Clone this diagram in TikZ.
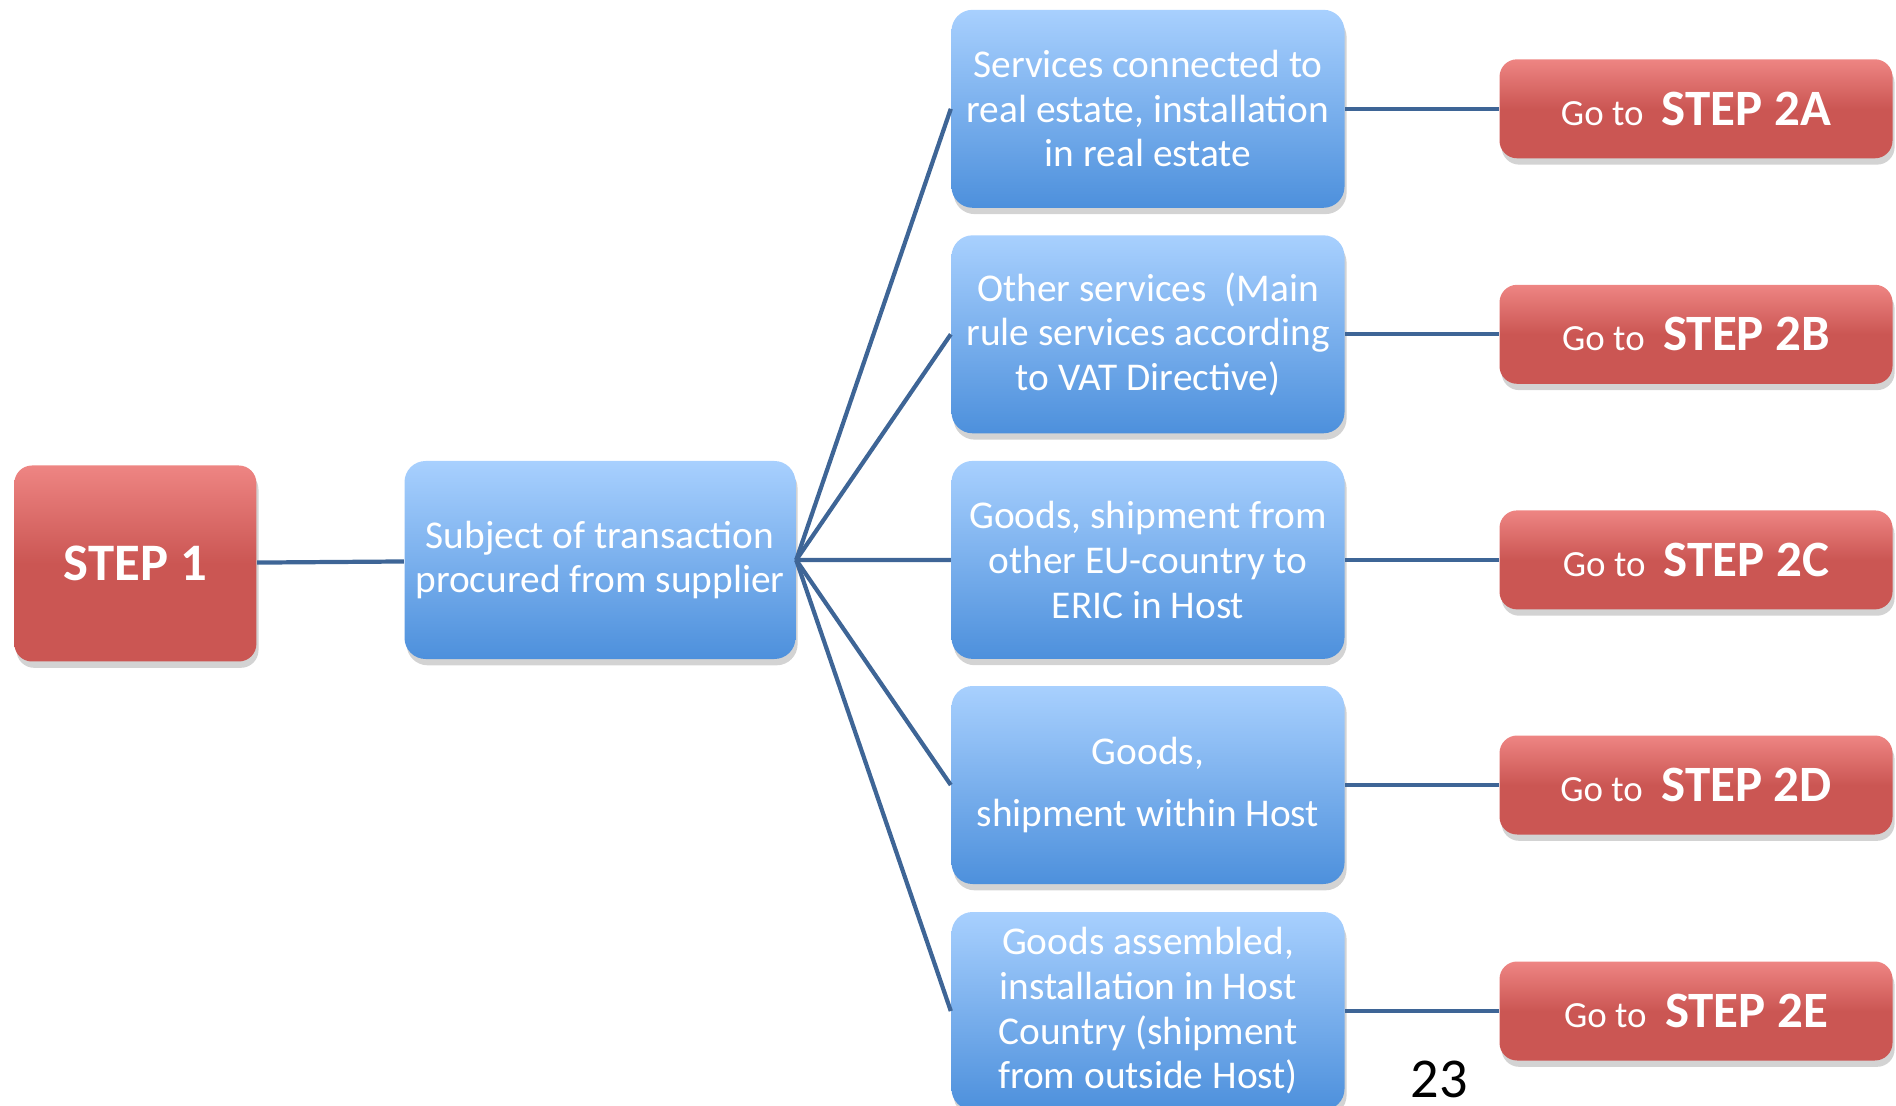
\documentclass[tikz,border=0pt]{standalone}
\usepackage{fontspec}
\setmainfont{Carlito}
\usetikzlibrary{shadows}
\definecolor{stepred}{HTML}{CB5653}
\definecolor{stepredtop}{HTML}{EE8583}
\definecolor{boxblue}{HTML}{4D90DC}
\definecolor{boxbluetop}{HTML}{A8D0FE}
\definecolor{linkblue}{HTML}{3E6596}

\begin{document}
\begin{tikzpicture}[
    stepbox/.style={rounded corners=5pt, top color=stepredtop, bottom color=stepred,
      middle color=stepred, text=white, align=center,
      drop shadow={shadow xshift=0.6pt, shadow yshift=-1.8pt, opacity=0.35}},
    infobox/.style={rounded corners=6pt, top color=boxbluetop, bottom color=boxblue,
      text=white, align=center, inner sep=2pt,
      minimum width=3.93cm, minimum height=1.98cm,
      font=\fontsize{11.2}{12.7}\selectfont,
      drop shadow={shadow xshift=0.6pt, shadow yshift=-1.8pt, opacity=0.35}},
    gobox/.style={stepbox, minimum width=3.93cm, minimum height=0.99cm,
      font=\fontsize{10.5}{12}\selectfont},
    link/.style={linkblue, line width=1.2pt}]
  \useasboundingbox (0,0) rectangle (18.96,-11.06);

  \node[stepbox, minimum width=2.42cm, minimum height=1.96cm,
    font=\fontsize{15}{18}\selectfont\bfseries] (step1) at (1.354,-5.635) {STEP 1};
  \node[infobox, minimum width=3.91cm] (subject) at (6.0,-5.6)
    {Subject of transaction\\procured from supplier};
  \draw[link] (step1) -- (subject);

  % one row per case
  \foreach \n/\y/\txt in {
      A/1.088/{Services connected to\\real estate, installation\\in real estate},
      B/3.343/{Other services~ (Main\\rule services according\\to VAT Directive)},
      C/5.599/{Goods, shipment from\\other EU-country to\\ERIC in Host},
      D/7.85/{Goods,\\[5pt]shipment within Host},
      E/10.11/{Goods assembled,\\installation in Host\\Country (shipment\\from outside Host)}}
  {
    \node[infobox] (case\n) at (11.48,-\y) {\txt};
    \node[gobox] (go\n) at (16.96,-\y)
      {Go to\enspace{\fontsize{14.5}{17}\selectfont\bfseries STEP 2\n}};
    \draw[link] (subject.east) -- (case\n.west);
    \draw[link] (case\n.east) -- (go\n.west);
  }

  \node[font=\fontsize{16}{19}\selectfont, inner sep=0pt] (page) at (14.39,-10.79) {23};
\end{tikzpicture}
\end{document}
